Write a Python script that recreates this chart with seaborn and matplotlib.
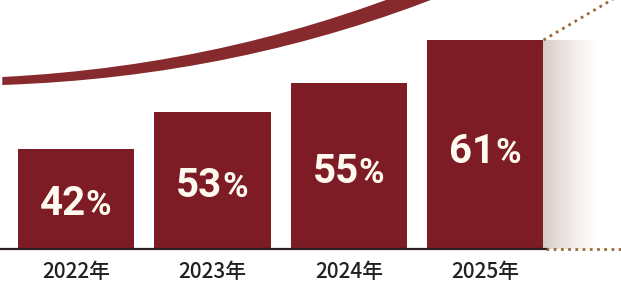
import numpy as np
import pandas as pd
import matplotlib
matplotlib.use("Agg")
import matplotlib.pyplot as plt
import seaborn as sns
from matplotlib.path import Path
from matplotlib.patches import PathPatch

# values
years = ["2022年", "2023年", "2024年", "2025年"]
percent = [42, 53, 55, 61]
# drawn bar heights (the chart is illustrative, bars are not to scale)
bar_heights = [100, 137, 166, 209]

BAR_RED = "#7e1c25"
CURVE_RED = "#862a2e"
DOT_GOLD = "#9a6b34"

sns.set_theme(style="white")
plt.rcParams["font.family"] = ["Noto Sans CJK JP", "DejaVu Sans"]

df = pd.DataFrame({"year": years, "height": bar_heights, "pct": percent})

fig = plt.figure(figsize=(6.21, 2.92), dpi=100)
ax = fig.add_axes([0, 43 / 292, 1, 249 / 292])

sns.barplot(data=df, x="year", y="height", color=BAR_RED, saturation=1,
            width=0.85, edgecolor="none", ax=ax, zorder=3)

xmin, xmax = -0.557, 3.993
ax.set_xlim(xmin, xmax)
ax.set_ylim(0, 249)

# soft shadow to the right of the last bar
last = ax.patches[-1]
x_edge = last.get_x() + last.get_width()
grad = np.zeros((2, 256, 4))
grad[..., 0] = 0.82
grad[..., 1] = 0.77
grad[..., 2] = 0.74
grad[..., 3] = np.linspace(0.9, 0.0, 256) ** 1.2
ax.imshow(grad, extent=[x_edge, x_edge + 0.4, 0, last.get_height()],
          aspect="auto", zorder=2, interpolation="bilinear")

# dotted guides from the last bar
ax.plot([x_edge, x_edge + 0.6], [last.get_height(), last.get_height() + 0.6 * 136.5 * 40 / 68],
        ls=(0, (1, 1.6)), color=DOT_GOLD, lw=2, zorder=2, clip_on=True)
ax.plot([x_edge + 0.02, xmax], [0, 0], ls=(0, (1, 1.6)), color=DOT_GOLD, lw=2,
        zorder=2, clip_on=False)

# rising swoosh across the top
p0, p1, p2 = (-0.54, 168), (1.2, 178), (2.75, 266)
w0, w1, w2 = 4, 6, 9
verts = [(p0[0], p0[1] + w0), (p1[0], p1[1] + w1), (p2[0], p2[1] + w2),
         (p2[0], p2[1] - w2), (p1[0], p1[1] - w1), (p0[0], p0[1] - w0),
         (p0[0], p0[1] + w0)]
codes = [Path.MOVETO, Path.CURVE3, Path.CURVE3, Path.LINETO,
         Path.CURVE3, Path.CURVE3, Path.CLOSEPOLY]
ax.add_patch(PathPatch(Path(verts, codes), facecolor=CURVE_RED, edgecolor="none", zorder=4))

# value labels inside bars
for i, (h, p) in enumerate(zip(bar_heights, percent)):
    y = h * 0.48
    ax.annotate(str(p), xy=(i, y), xytext=(7, -10), textcoords="offset points",
                ha="right", va="baseline", color="#fffaf0", fontsize=29,
                fontweight="bold", family=["Roboto", "DejaVu Sans"], zorder=5)
    ax.annotate("%", xy=(i, y), xytext=(7, -10), textcoords="offset points",
                ha="left", va="baseline", color="#fffaf0", fontsize=25,
                fontweight="bold", family=["Roboto", "DejaVu Sans"], zorder=5)

ax.set_xlabel("")
ax.set_ylabel("")
ax.set_yticks([])
ax.tick_params(axis="x", length=0, pad=9, labelsize=15, labelcolor="#231f20")
for lbl in ax.get_xticklabels():
    lbl.set_fontweight("medium")
for s in ["top", "right", "left"]:
    ax.spines[s].set_visible(False)
ax.spines["bottom"].set_color("#2a2222")
ax.spines["bottom"].set_linewidth(1.6)
ax.spines["bottom"].set_bounds(xmin, x_edge + 0.02)
ax.spines["bottom"].set_zorder(4)

fig.savefig("out.png", dpi=100)
